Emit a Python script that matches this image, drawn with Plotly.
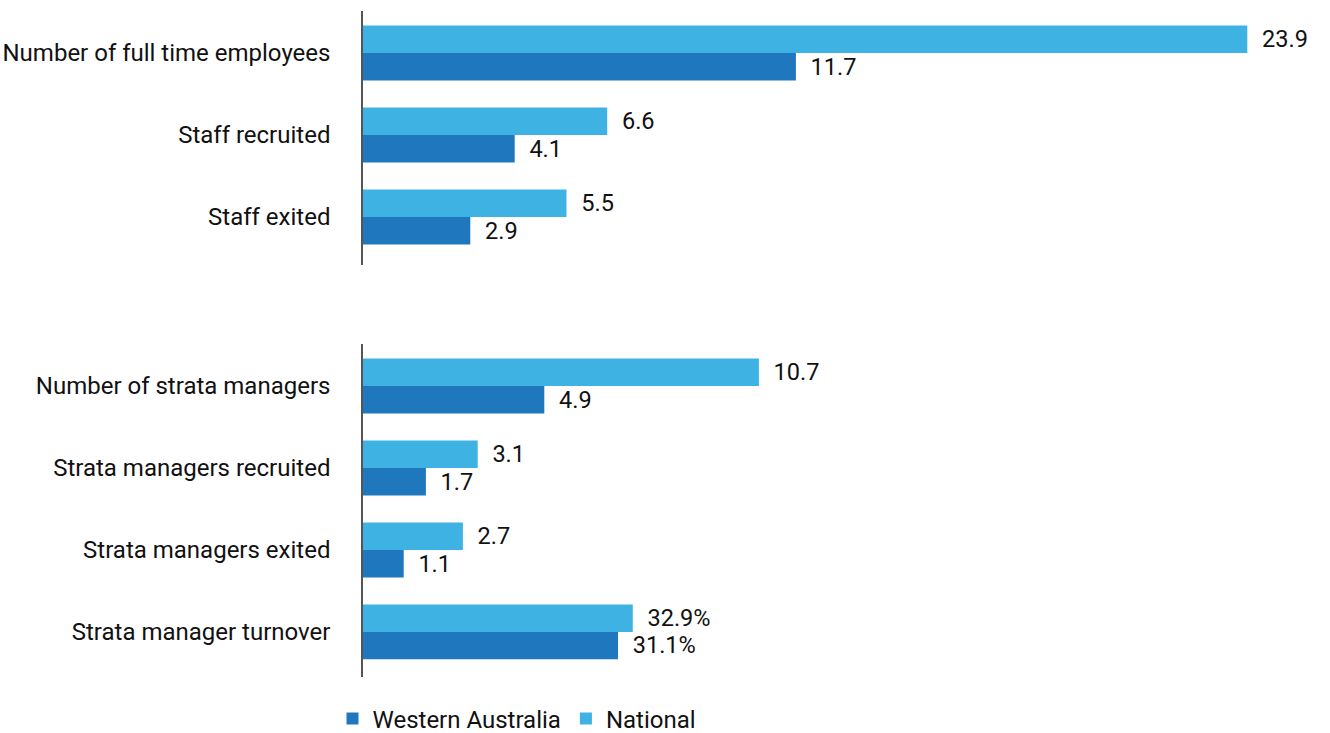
import plotly.graph_objects as go

# top panel: staff counts
staff_cats = ["Number of full time employees", "Staff recruited", "Staff exited"]
staff_national = [23.9, 6.6, 5.5]
staff_wa = [11.7, 4.1, 2.9]

# bottom panel: strata managers
strata_cats = ["Number of strata managers", "Strata managers recruited",
               "Strata managers exited", "Strata manager turnover"]
strata_national = [10.7, 3.1, 2.7]
strata_wa = [4.9, 1.7, 1.1]

# turnover is a percentage, plotted on its own scale
turnover_national = [32.9]
turnover_wa = [31.1]

NAT_COLOR = "#3EB3E3"
WA_COLOR = "#1F78BE"
FONT = "Roboto, 'Liberation Sans Narrow', sans-serif"
PAD = "\u00a0\u00a0"

fig = go.Figure()


def add_pair(cats, nat, wa, xaxis, yaxis, fmt, legend):
    fig.add_trace(go.Bar(
        y=cats, x=nat, orientation="h", name="National",
        marker=dict(color=NAT_COLOR, line=dict(width=0)), xaxis=xaxis, yaxis=yaxis,
        texttemplate=PAD + fmt, textposition="outside", cliponaxis=False,
        showlegend=legend, legendgroup="nat",
    ))
    fig.add_trace(go.Bar(
        y=cats, x=wa, orientation="h", name="Western Australia",
        marker=dict(color=WA_COLOR, line=dict(width=0)), xaxis=xaxis, yaxis=yaxis,
        texttemplate=PAD + fmt, textposition="outside", cliponaxis=False,
        showlegend=legend, legendgroup="wa",
    ))


add_pair(staff_cats, staff_national, staff_wa, "x", "y", "%{x:.1f}", True)
add_pair(strata_cats[:3], strata_national, strata_wa, "x2", "y2", "%{x:.1f}", False)
add_pair(strata_cats[3:], turnover_national, turnover_wa, "x3", "y2", "%{x:.1f}%", False)

H = 733
W_PLOT = 957
px_per_unit = 37.0
px_per_pct = 8.2

yaxis_common = dict(
    type="category", showline=True, linecolor="#555555", linewidth=1.5,
    ticks="", showgrid=False, zeroline=False, ticklabelstandoff=26,
    tickfont=dict(size=24, color="#111111"), automargin=False,
)
xaxis_common = dict(visible=False, showgrid=False, zeroline=False, automargin=False)

fig.update_layout(
    width=1330, height=H,
    margin=dict(l=363, r=10, t=0, b=0, autoexpand=False),
    plot_bgcolor="white", paper_bgcolor="white",
    font=dict(family=FONT, size=24, color="#111111"),
    barmode="group", bargap=0.33, bargroupgap=0,
    xaxis=dict(xaxis_common, range=[0, W_PLOT / px_per_unit], anchor="y", domain=[0, 1]),
    yaxis=dict(yaxis_common, anchor="x",
               domain=[1 - 265 / H, 1 - 11 / H],
               categoryorder="array", categoryarray=staff_cats,
               range=[2.585, -0.512]),
    xaxis2=dict(xaxis_common, range=[0, W_PLOT / px_per_unit], anchor="y2", domain=[0, 1]),
    xaxis3=dict(xaxis_common, range=[0, W_PLOT / px_per_pct], anchor="y2",
                overlaying="x2", domain=[0, 1]),
    yaxis2=dict(yaxis_common, anchor="x2",
                domain=[1 - 677 / H, 1 - 344 / H],
                categoryorder="array", categoryarray=strata_cats,
                range=[3.55, -0.512]),
    legend=dict(
        orientation="h", traceorder="reversed",
        xref="container", x=0.25, xanchor="left",
        yref="container", y=1 - 719 / H, yanchor="middle",
        font=dict(size=24, color="#111111"),
        itemclick=False,
    ),
)

fig.write_html("out.html", config={"displayModeBar": False},
               post_script="document.body.style.margin='0';")
